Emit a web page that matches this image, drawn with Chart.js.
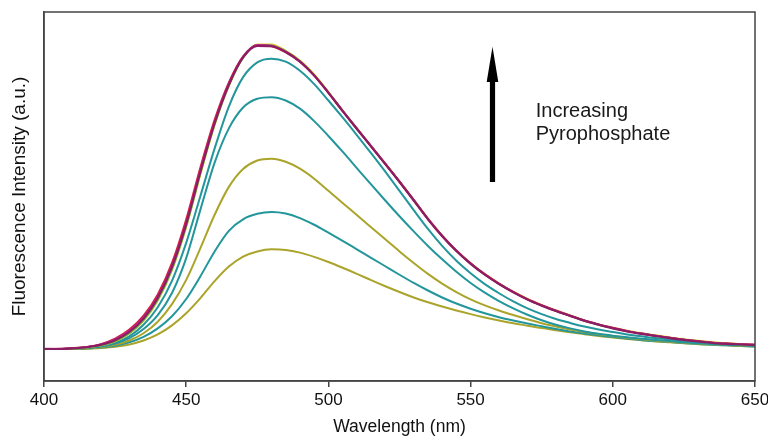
<!DOCTYPE html>
<html>
<head>
<meta charset="utf-8">
<title>Fluorescence emission spectra</title>
<script src="https://cdn.jsdelivr.net/npm/chart.js@4.4.1/dist/chart.umd.min.js"></script>
<style>
  html, body { margin: 0; padding: 0; background: #ffffff; }
  #wrap { width: 768px; height: 436px; }
</style>
</head>
<body>
<div id="wrap"><canvas id="chart" width="768" height="436"></canvas></div>
<script>
// Emission wavelengths (nm), 5 nm steps
const wavelengths = [400,405,410,415,420,425,430,435,440,445,450,455,460,465,470,475,480,485,490,495,
  500,505,510,515,520,525,530,535,540,545,550,555,560,565,570,575,580,585,590,595,
  600,605,610,615,620,625,630,635,640,645,650];

// Saturated spectra (highest pyrophosphate additions, nearly overlapping)
const satPurple = [0,0,2,6,14,29,56,100,168,270,412,585,745,872,962,1000,999,980,948,902,
  845,785,726,668,610,551,490,428,372,323,281,245,214,187,163,143,125,109,93,80,
  68,58,50,43,36,30,25,20,17,15,13];
const satMagenta = [1,0,3,6,15,32,60,104,172,274,416,589,748,874,964,1003,1001,981,949,903,
  846,786,727,669,611,552,491,429,373,324,282,246,215,188,164,144,126,110,94,81,
  69,59,51,44,37,31,26,21,18,16,14];
const satRed = [0,1,3,7,16,34,64,110,180,284,428,600,757,880,966,1002,999,979,948,903,
  846,786,728,670,612,553,492,430,374,325,283,247,216,189,165,145,127,110,94,81,
  70,60,51,44,37,31,26,21,18,16,14];
const satGreen = [0,0,1,5,12,26,52,95,162,263,405,579,741,869,961,1003,1002,982,950,904,
  847,786,727,669,611,552,491,429,373,324,282,246,215,188,164,144,126,110,93,80,
  69,59,51,44,37,31,26,21,18,15,13];
const satYellow = [0,0,1,5,12,25,51,93,160,261,403,577,740,869,962,1005,1005,984,952,906,
  848,787,728,670,612,553,492,430,374,325,283,247,216,189,165,145,127,111,94,81,
  70,60,52,45,38,32,27,22,19,16,14];

// Intermediate titration points
const step5 = [0,0,1,3,9,20,42,80,138,225,350,505,662,800,897,946,958,948,918,874,
  820,764,706,646,585,522,458,396,340,291,250,214,184,157,134,115,99,86,74,64,
  56,48,42,36,31,26,22,18,15,13,11];
const step4 = [0,0,1,3,8,18,36,66,112,185,300,460,615,728,797,826,831,820,793,752,
  703,651,597,543,490,438,388,340,296,255,218,186,158,134,113,95,80,68,58,50,
  44,39,34,30,26,22,19,16,14,12,10];
const step3 = [0,0,1,2,6,14,28,52,90,148,228,333,443,535,594,622,628,618,595,562,
  522,482,442,402,362,322,284,248,216,188,164,144,127,112,98,85,74,64,56,49,
  43,37,32,28,24,21,18,15,13,11,9];
const step2 = [0,0,1,2,5,11,22,40,68,108,165,240,322,390,428,446,452,447,432,410,
  384,357,329,301,273,245,218,193,170,150,133,118,105,94,84,75,66,58,51,45,
  40,35,30,26,23,20,17,14,12,10,8];
const step1 = [0,0,0,1,3,7,15,28,48,78,118,168,224,272,305,322,329,327,318,304,
  287,268,248,227,207,188,170,154,140,127,115,104,94,85,77,69,62,55,49,43,
  38,33,29,25,22,19,16,14,12,10,8];

// Axis tick labels
const xTicks = [400, 450, 500, 550, 600, 650];

const TEAL = '#23969c';
const OLIVE = '#aba42b';
const FONT = '"Liberation Sans", Arial, Helvetica, sans-serif';

function series(values, color, width) {
  return {
    data: values.map((v, i) => ({ x: wavelengths[i], y: v })),
    borderColor: color,
    borderWidth: width || 2,
    pointRadius: 0,
    fill: false,
    cubicInterpolationMode: 'monotone'
  };
}

// Frame around the plot and the "increasing" arrow annotation
const framePlugin = {
  id: 'frameAndArrow',
  afterDatasetsDraw(chart) {
    const { ctx, chartArea: a, scales } = chart;
    const xs = scales.x, ys = scales.y;
    ctx.save();
    ctx.strokeStyle = '#444';
    ctx.lineWidth = 1.5;
    ctx.strokeRect(a.left, a.top, a.right - a.left, a.bottom - a.top);

    // arrow
    const ax = xs.getPixelForValue(557.7);
    const yBottom = ys.getPixelForValue(551);
    const yHead = ys.getPixelForValue(881);
    const yTip = ys.getPixelForValue(997);
    ctx.fillStyle = '#000';
    ctx.fillRect(ax - 2.6, yHead - 1, 5.2, yBottom - yHead + 1);
    ctx.beginPath();
    ctx.moveTo(ax, yTip);
    ctx.lineTo(ax + 5.8, yHead);
    ctx.lineTo(ax - 5.8, yHead);
    ctx.closePath();
    ctx.fill();

    // label
    ctx.font = '20px ' + FONT;
    ctx.fillStyle = '#1a1a1a';
    ctx.textAlign = 'left';
    ctx.textBaseline = 'alphabetic';
    const lx = xs.getPixelForValue(572.9);
    ctx.fillText('Increasing', lx, ys.getPixelForValue(766));
    ctx.fillText('Pyrophosphate', lx, ys.getPixelForValue(690));
    ctx.restore();
  }
};

new Chart(document.getElementById('chart'), {
  type: 'line',
  data: {
    datasets: [
      series(satPurple, '#8a1d63', 2.1),
      series(satMagenta, '#c02488', 1.9),
      series(satRed, '#d2213f', 1.9),
      series(satGreen, '#62b43c', 1.9),
      series(satYellow, '#d9cf35', 2),
      series(step5, TEAL),
      series(step4, TEAL),
      series(step3, OLIVE),
      series(step2, TEAL),
      series(step1, OLIVE)
    ]
  },
  options: {
    responsive: false,
    devicePixelRatio: 1,
    animation: false,
    layout: { padding: { top: 12, right: 13, left: 0, bottom: 0 } },
    plugins: {
      legend: { display: false },
      tooltip: { enabled: false }
    },
    scales: {
      x: {
        type: 'linear',
        min: 400,
        max: 650,
        afterBuildTicks(scale) { scale.ticks = xTicks.map(v => ({ value: v })); },
        afterFit(scale) {
          scale.height = 55;
          scale.paddingLeft = 0;
          scale.paddingRight = 0;
        },
        ticks: {
          font: { family: FONT, size: 17 },
          color: '#111',
          padding: 3,
          maxRotation: 0
        },
        grid: {
          display: true,
          drawOnChartArea: false,
          drawTicks: true,
          tickLength: 6,
          color: '#444',
          lineWidth: 1.5
        },
        border: { display: true, color: '#444', width: 1.5 },
        title: {
          display: true,
          text: 'Wavelength (nm)',
          font: { family: FONT, size: 17.5, lineHeight: 1 },
          color: '#111',
          padding: { top: 0, bottom: 0 }
        }
      },
      y: {
        type: 'linear',
        min: -105.6,
        max: 1112,
        afterFit(scale) { scale.width = 44; },
        ticks: { display: false },
        grid: { display: false, drawTicks: false },
        border: { display: true, color: '#444', width: 1.5 },
        title: {
          display: true,
          text: 'Fluorescence Intensity (a.u.)',
          font: { family: FONT, size: 19 },
          color: '#111',
          padding: { top: 8, bottom: 0 }
        }
      }
    }
  },
  plugins: [framePlugin]
});
</script>
</body>
</html>
